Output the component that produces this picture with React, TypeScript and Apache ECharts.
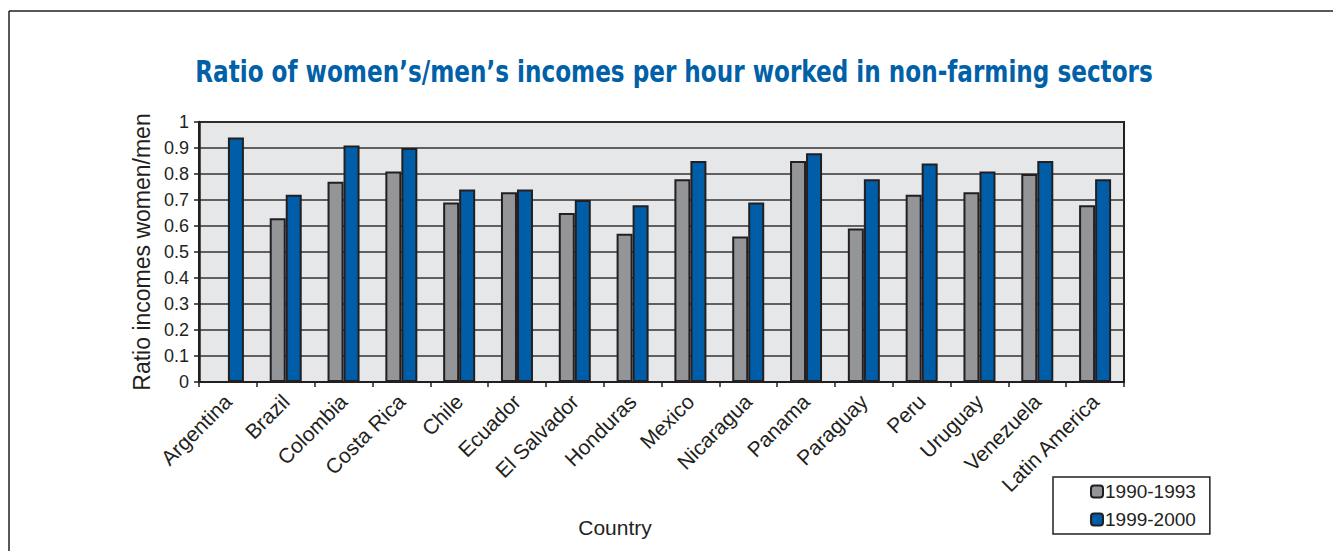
import React, { useEffect, useRef } from "react";
import * as echarts from "echarts";

const countries = [
  "Argentina", "Brazil", "Colombia", "Costa Rica", "Chile", "Ecuador", "El Salvador",
  "Honduras", "Mexico", "Nicaragua", "Panama", "Paraguay", "Peru", "Uruguay",
  "Venezuela", "Latin America",
];
const period1Name = "1990-1993";
const period2Name = "1999-2000";
const period1 = [null, 0.63, 0.77, 0.81, 0.69, 0.73, 0.65, 0.57, 0.78, 0.56, 0.85, 0.59, 0.72, 0.73, 0.80, 0.68];
const period2 = [0.94, 0.72, 0.91, 0.90, 0.74, 0.74, 0.70, 0.68, 0.85, 0.69, 0.88, 0.78, 0.84, 0.81, 0.85, 0.78];

const titleText = "Ratio of women\u2019s/men\u2019s incomes per hour worked in non-farming sectors";
const yName = "Ratio incomes women/men";
const xName = "Country";

const DARK = "#231F20";
const FONT = "'Liberation Sans', Arial, sans-serif";

export default function App() {
  const ref = useRef<HTMLDivElement>(null);
  useEffect(() => {
    if (!ref.current) return;
    const chart = echarts.init(ref.current, null, { renderer: "svg" });
    chart.setOption({
      animation: false,
      backgroundColor: "#ffffff",
      grid: {
        left: 199,
        top: 122,
        width: 925,
        height: 260,
        show: true,
        backgroundColor: "#E6E7E8",
        borderColor: DARK,
        borderWidth: 2,
      },
      legend: {
        orient: "vertical",
        left: 1053,
        top: 477,
        width: 165,
        data: [period1Name, period2Name],
        itemWidth: 12,
        itemHeight: 12,
        itemGap: 9,
        padding: [5, 14, 5, 37],
        borderColor: DARK,
        borderWidth: 1.5,
        backgroundColor: "#ffffff",
        textStyle: { fontSize: 19, color: DARK, fontFamily: FONT, padding: [0, 0, 0, -3] },
      },
      xAxis: {
        type: "category",
        data: countries,
        axisLine: { lineStyle: { color: DARK, width: 2 } },
        axisTick: { show: true, length: 5, lineStyle: { color: DARK, width: 1.5 } },
        axisLabel: {
          rotate: 45,
          interval: 0,
          margin: 16,
          fontSize: 21,
          color: DARK,
          fontFamily: FONT,
        },
        splitLine: { show: false },
      },
      yAxis: {
        type: "value",
        min: 0,
        max: 1,
        interval: 0.1,
        name: yName,
        nameLocation: "middle",
        nameGap: 45,
        nameTextStyle: { fontSize: 23, color: DARK, fontFamily: FONT },
        axisLine: { show: true, lineStyle: { color: DARK, width: 2.5 } },
        axisTick: { show: true, length: 5, lineStyle: { color: DARK, width: 1.5 } },
        axisLabel: {
          fontSize: 18,
          color: DARK,
          fontFamily: FONT,
          margin: 10,
          formatter: (v: number) => String(Math.round(v * 10) / 10),
        },
        splitLine: { show: true, lineStyle: { color: "#333333", width: 1.5 } },
      },
      series: [
        {
          name: period1Name,
          type: "bar",
          data: period1,
          barWidth: 16,
          barGap: "0%",
          itemStyle: { color: "#939598", borderColor: DARK, borderWidth: 2 },
        },
        {
          name: period2Name,
          type: "bar",
          data: period2,
          barWidth: 16,
          barGap: "0%",
          itemStyle: { color: "#005EA8", borderColor: DARK, borderWidth: 2 },
        },
      ],
      graphic: [
        { type: "line", shape: { x1: 9, y1: 11, x2: 1333, y2: 11 }, style: { stroke: DARK, lineWidth: 1.5 } },
        { type: "line", shape: { x1: 9, y1: 11, x2: 9, y2: 551 }, style: { stroke: DARK, lineWidth: 1.5 } },
        {
          type: "text",
          x: 674,
          y: 72,
          scaleX: 0.83,
          style: {
            text: titleText,
            fontSize: 31,
            fontWeight: "bold",
            fontFamily: "'DejaVu Sans Condensed', 'DejaVu Sans', sans-serif",
            fill: "#0060A8",
            align: "center",
            verticalAlign: "middle",
          },
        },
        {
          type: "text",
          x: 615,
          y: 527,
          style: {
            text: xName,
            fontSize: 21,
            fill: DARK,
            fontFamily: FONT,
            align: "center",
            verticalAlign: "middle",
          },
        },
      ],
    });
    return () => chart.dispose();
  }, []);
  return (
    <div
      ref={ref}
      style={{ position: "absolute", left: 0, top: 0, width: 1333, height: 551 }}
    />
  );
}
